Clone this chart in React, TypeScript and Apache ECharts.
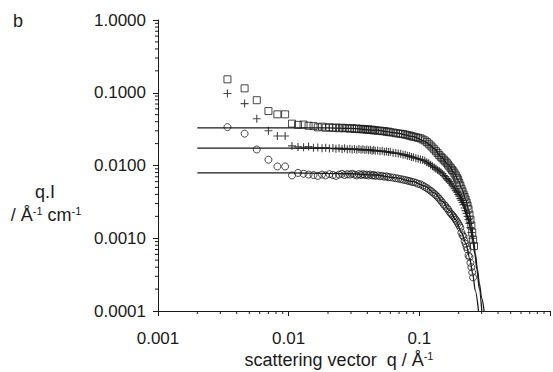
import React, { useEffect, useRef } from "react";
import * as echarts from "echarts";

// low-q points
const qLow = [0.0034, 0.0046, 0.0057, 0.007, 0.0082, 0.0094];
const squaresLow = [0.153, 0.115, 0.079, 0.056, 0.0505, 0.0505];
const plusLow = [0.0975, 0.071, 0.044, 0.03, 0.0254, 0.0254];
const circlesLow = [0.0337, 0.0274, 0.0166, 0.012, 0.0097, 0.0097];

// dense data region
const qDense = [
  0.0106, 0.0118, 0.013, 0.0142, 0.0155, 0.0167, 0.018, 0.0192, 0.0205, 0.0218,
  0.023, 0.0243, 0.0256, 0.0268, 0.0281, 0.0294, 0.0306, 0.0319, 0.0332, 0.0345,
  0.0358, 0.037, 0.0383, 0.0396, 0.0409, 0.0422, 0.0435, 0.0447, 0.046, 0.048,
  0.05, 0.052, 0.054, 0.056, 0.058, 0.06, 0.063, 0.066, 0.069, 0.072,
  0.075, 0.078, 0.081, 0.084, 0.087, 0.09, 0.094, 0.098, 0.102, 0.106,
  0.11, 0.114, 0.118, 0.122, 0.126, 0.13, 0.134, 0.138, 0.142, 0.146,
  0.15, 0.154, 0.158, 0.162, 0.166, 0.17, 0.174, 0.178, 0.182, 0.186,
  0.19, 0.194, 0.198, 0.202, 0.206, 0.21, 0.214, 0.218, 0.222, 0.226,
  0.23, 0.234, 0.238, 0.242, 0.246, 0.25, 0.254, 0.258, 0.262,
];
const squaresDense = [
  0.0376, 0.0362, 0.0365, 0.0352, 0.0348, 0.0335, 0.0342, 0.033, 0.0336, 0.0328,
  0.0333, 0.0325, 0.0331, 0.0324, 0.0328, 0.0321, 0.0326, 0.0318, 0.0323, 0.0316,
  0.032, 0.0313, 0.0317, 0.031, 0.0314, 0.0307, 0.0311, 0.0304, 0.0306, 0.03,
  0.0302, 0.0296, 0.0297, 0.0291, 0.0292, 0.0286, 0.0284, 0.0278, 0.0276, 0.0273,
  0.027, 0.0266, 0.0261, 0.0258, 0.0253, 0.0249, 0.0245, 0.024, 0.0236, 0.0228,
  0.0221, 0.021, 0.0199, 0.0188, 0.0177, 0.0167, 0.0157, 0.0148, 0.0139, 0.0132,
  0.0126, 0.012, 0.0114, 0.0109, 0.0103, 0.0097, 0.0092, 0.0087, 0.0083, 0.0078,
  0.0073, 0.0068, 0.0064, 0.0058, 0.0053, 0.0048, 0.0044, 0.004, 0.0037, 0.0034,
  0.0031, 0.0028, 0.0025, 0.0021, 0.0018, 0.0015, 0.0012, 0.00095, 0.00078,
];
const plusDense = [
  0.0186, 0.018, 0.0178, 0.0182, 0.0175, 0.0177, 0.0172, 0.0176, 0.0171, 0.0174,
  0.017, 0.0173, 0.0168, 0.0172, 0.0167, 0.017, 0.0166, 0.0169, 0.0165, 0.0168,
  0.0164, 0.0167, 0.0163, 0.0166, 0.0162, 0.0164, 0.016, 0.0163, 0.0159, 0.0161,
  0.0157, 0.0159, 0.0155, 0.0156, 0.0153, 0.0154, 0.015, 0.0149, 0.0146, 0.0145,
  0.0141, 0.014, 0.0136, 0.0135, 0.0131, 0.013, 0.0126, 0.0124, 0.0121, 0.0119,
  0.0116, 0.0111, 0.0107, 0.0102, 0.0098, 0.0094, 0.009, 0.0087, 0.0084, 0.0081,
  0.0077, 0.0073, 0.007, 0.0066, 0.0063, 0.006, 0.0057, 0.0054, 0.0051, 0.0048,
  0.0045, 0.0043, 0.004, 0.0038, 0.0035, 0.0033, 0.0031, 0.0029, 0.0026, 0.0024,
  0.0022, 0.002, 0.0018, 0.0016, 0.0014, 0.0012, 0.001, null, null,
];
const circlesDense = [
  0.0073, 0.0079, 0.0077, 0.0075, 0.0074, 0.0072, 0.0075, 0.0073, 0.0076, 0.0074,
  0.0072, 0.0075, 0.0077, 0.0074, 0.0076, 0.0075, 0.0077, 0.0075, 0.0073, 0.0076,
  0.0074, 0.0076, 0.0074, 0.0075, 0.0073, 0.0075, 0.0073, 0.0074, 0.0072, 0.0073,
  0.0071, 0.0072, 0.007, 0.0071, 0.0069, 0.0069, 0.0068, 0.0067, 0.0066, 0.0065,
  0.0064, 0.0063, 0.0062, 0.0061, 0.006, 0.0059, 0.0058, 0.0056, 0.0055, 0.0053,
  0.0051, 0.0049, 0.0047, 0.0045, 0.0043, 0.0041, 0.0039, 0.0037, 0.0035, 0.0033,
  0.0031, 0.0029, 0.0028, 0.0026, 0.0025, 0.0023, 0.0022, 0.0021, 0.002, 0.0019,
  0.0018, 0.0017, 0.0016, 0.0015, 0.0014, 0.0012, 0.0011, 0.00105, 0.00092, 0.00084,
  0.00076, 0.0007, 0.00058, 0.00055, 0.00046, 0.0004, 0.00034, 0.00029, null,
];

// fitted curves
const fitTopQ = [0.002, 0.01, 0.02, 0.03, 0.046, 0.065, 0.09, 0.11, 0.12, 0.13, 0.147, 0.166, 0.184, 0.2, 0.211, 0.227, 0.239, 0.25, 0.26, 0.268, 0.278, 0.288, 0.3, 0.313];
const fitTopI = [0.033, 0.033, 0.0329, 0.0323, 0.0306, 0.0282, 0.025, 0.0215, 0.0193, 0.017, 0.0131, 0.0103, 0.008, 0.0061, 0.0048, 0.0034, 0.0024, 0.0016, 0.00095, 0.00062, 0.00038, 0.00024, 0.00015, 0.0001];
const fitMidQ = [0.002, 0.01, 0.02, 0.03, 0.046, 0.065, 0.09, 0.11, 0.13, 0.147, 0.166, 0.184, 0.2, 0.218, 0.234, 0.246, 0.256, 0.266, 0.276, 0.288, 0.3006];
const fitMidI = [0.0173, 0.0173, 0.0172, 0.0168, 0.016, 0.0148, 0.013, 0.0115, 0.0095, 0.0081, 0.0064, 0.005, 0.004, 0.0029, 0.002, 0.0014, 0.00095, 0.0006, 0.00037, 0.0002, 0.0001];
const fitLowQ = [0.002, 0.01, 0.02, 0.03, 0.046, 0.065, 0.09, 0.11, 0.13, 0.15, 0.17, 0.19, 0.21, 0.227, 0.243, 0.256, 0.268, 0.2838];
const fitLowI = [0.0079, 0.0079, 0.0078, 0.0077, 0.0074, 0.0068, 0.006, 0.0052, 0.0042, 0.0032, 0.0024, 0.0018, 0.0012, 0.00085, 0.00053, 0.00033, 0.00019, 0.0001];

const xDecades = [0.001, 0.01, 0.1];
const yDecades = [0.0001, 0.001, 0.01, 0.1];

const FONT = "Liberation Sans, Arial, sans-serif";
const INK = "#1a1a1a";

function pts(q: number[], v: (number | null)[]) {
  const out: number[][] = [];
  q.forEach((x, i) => {
    const y = v[i];
    if (y != null) out.push([x, y]);
  });
  return out;
}

export default function App() {
  const ref = useRef<HTMLDivElement>(null);
  useEffect(() => {
    if (!ref.current) return;
    const chart = echarts.init(ref.current, undefined, { renderer: "svg" });

    const xMinor: number[][] = [];
    xDecades.forEach((d) => {
      for (let k = 2; k <= 9; k++) xMinor.push([d * k, 0.0001]);
    });
    const yMinor: number[][] = [];
    yDecades.forEach((d) => {
      for (let k = 2; k <= 9; k++) yMinor.push([0.001, d * k]);
    });

    const hollow = { color: "rgba(0,0,0,0)", borderColor: INK, borderWidth: 1 };
    const lineStyle = { color: INK, width: 1.3 };
    const sup = { fontSize: 11, fontFamily: FONT, verticalAlign: "top", lineHeight: 8, fill: INK };
    const main = { fontSize: 18, fontFamily: FONT, lineHeight: 20, fill: INK };

    chart.setOption({
      animation: false,
      grid: { left: 158, top: 20, width: 400, height: 291 },
      xAxis: {
        type: "log",
        logBase: 10,
        min: 0.001,
        max: 1,
        axisLine: { lineStyle: { color: INK, width: 1 } },
        axisTick: { length: 5, lineStyle: { color: INK } },
        splitLine: { show: false },
        axisLabel: {
          margin: 19,
          fontSize: 17,
          fontFamily: FONT,
          color: INK,
          formatter: (v: number) => (v > 0.5 ? "" : String(Number(v.toPrecision(3)))),
        },
      },
      yAxis: {
        type: "log",
        logBase: 10,
        min: 0.0001,
        max: 1,
        axisLine: { lineStyle: { color: INK, width: 1 } },
        axisTick: { length: 5, lineStyle: { color: INK } },
        splitLine: { show: false },
        axisLabel: {
          margin: 12,
          fontSize: 17,
          fontFamily: FONT,
          color: INK,
          formatter: (v: number) => v.toFixed(4),
        },
      },
      graphic: [
        { type: "text", left: 13, top: 12, style: { text: "b", font: `18px ${FONT}`, fill: INK } },
        {
          type: "text",
          x: 45,
          y: 192,
          style: { text: "q.I", font: `18px ${FONT}`, fill: INK, align: "center", verticalAlign: "middle" },
        },
        {
          type: "text",
          x: 46,
          y: 215,
          style: {
            text: "{m|/ Å}{sup|-1}{m| cm}{sup|-1}",
            font: `18px ${FONT}`,
            fill: INK,
            align: "center",
            verticalAlign: "middle",
            rich: { sup, m: main },
          },
        },
        {
          type: "text",
          x: 339,
          y: 360,
          style: {
            text: "{m|scattering vector  q / Å}{sup|-1}",
            font: `18px ${FONT}`,
            fill: INK,
            align: "center",
            verticalAlign: "middle",
            rich: { sup, m: main },
          },
        },
      ],
      series: [
        {
          type: "custom",
          clip: false,
          silent: true,
          data: xMinor,
          renderItem: (_p: any, api: any) => {
            const c = api.coord([api.value(0), api.value(1)]);
            return {
              type: "line",
              shape: { x1: c[0], y1: c[1], x2: c[0], y2: c[1] + 3 },
              style: { stroke: INK, lineWidth: 1 },
            };
          },
        },
        {
          type: "custom",
          clip: false,
          silent: true,
          data: yMinor,
          renderItem: (_p: any, api: any) => {
            const c = api.coord([api.value(0), api.value(1)]);
            return {
              type: "line",
              shape: { x1: c[0] - 3, y1: c[1], x2: c[0], y2: c[1] },
              style: { stroke: INK, lineWidth: 1 },
            };
          },
        },
        { type: "line", data: pts(fitTopQ, fitTopI), showSymbol: false, smooth: 0.3, smoothMonotone: "x", lineStyle },
        { type: "line", data: pts(fitMidQ, fitMidI), showSymbol: false, smooth: 0.3, smoothMonotone: "x", lineStyle },
        { type: "line", data: pts(fitLowQ, fitLowI), showSymbol: false, smooth: 0.3, smoothMonotone: "x", lineStyle },
        {
          type: "scatter",
          symbol: "rect",
          symbolSize: 7,
          itemStyle: hollow,
          data: pts(qLow, squaresLow).concat(pts(qDense, squaresDense)),
        },
        {
          type: "scatter",
          symbol: "path://M4.3,0H5.7V4.3H10V5.7H5.7V10H4.3V5.7H0V4.3H4.3Z",
          symbolSize: 8,
          itemStyle: { color: INK },
          data: pts(qLow, plusLow).concat(pts(qDense, plusDense)),
        },
        {
          type: "scatter",
          symbol: "circle",
          symbolSize: 7,
          itemStyle: hollow,
          data: pts(qLow, circlesLow).concat(pts(qDense, circlesDense)),
        },
      ],
    });
    return () => chart.dispose();
  }, []);
  return (
    <div
      ref={ref}
      style={{ position: "fixed", left: 0, top: 0, width: 553, height: 372, background: "#fff" }}
    />
  );
}
